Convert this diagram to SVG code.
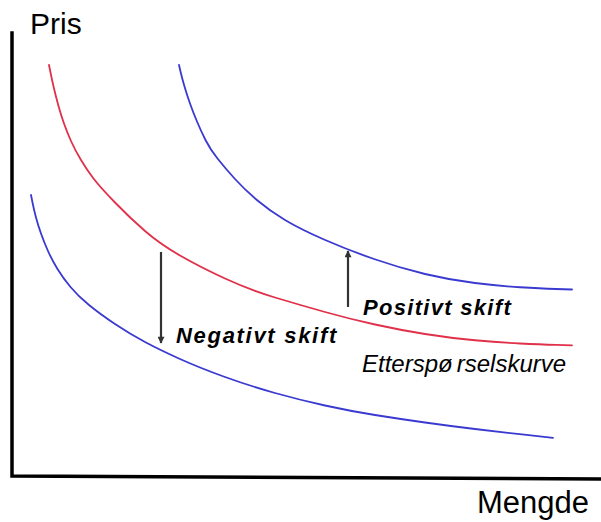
<svg xmlns="http://www.w3.org/2000/svg" width="601" height="522" viewBox="0 0 601 522">
<style>
.axis{stroke:#000;stroke-width:3.5;fill:none;stroke-linecap:square}
.curve{fill:none;stroke-width:1.8;stroke-linejoin:round;stroke-linecap:round}
.red{stroke:#e0304a}
.blue{stroke:#3a3ad0}
.arr{stroke:#333;stroke-width:2.2;fill:none}
.lbl{font-family:"Liberation Sans",Arial,sans-serif;fill:#000}
.bi{font-weight:bold;font-style:italic}
</style>
<defs>
<marker id="ah" viewBox="0 0 10 10" refX="9" refY="5" markerWidth="8" markerHeight="7" markerUnits="userSpaceOnUse" orient="auto">
<path d="M0,0 L10,5 L0,10 z" fill="#333"/>
</marker>
</defs>
<rect width="601" height="522" fill="#fff"/>
<g id="axes">
<path class="axis" d="M12,33 L12,476 L601,479"/>
</g>
<g id="curves">
<path id="demand" class="curve red" d="M49,65 L50.5,72.5 Q52,80 54,88.5 Q56,97 58.5,106 Q61,115 64,123.5 Q67,132 71,141 Q75,150 81,160 Q87,170 93.5,178.5 Q100,187 115,202.5 Q130,218 145,231 Q160,244 180,255.5 Q200,267 225,278.5 Q250,290 275,297.5 Q300,305 325,312 Q350,319 375,324.5 Q400,330 425,334 Q450,338 475,340.25 Q500,342.5 520,343.5 Q540,344.5 556,344.9 L572,345.3"/>
<path id="positive" class="curve blue" d="M179,65 L180.5,71.5 Q182,78 184.5,86.5 Q187,95 190,103.5 Q193,112 197,121.5 Q201,131 205.5,140 Q210,149 217.5,158.5 Q225,168 235,179 Q245,190 257.5,200.5 Q270,211 285,220 Q300,229 324,239.5 Q348,250 374,259 Q400,268 425,274 Q450,280 475,283 Q500,286 520,287.25 Q540,288.5 556,289 L572,289.5"/>
<path id="negative" class="curve blue" d="M31,195 L32.5,202.5 Q34,210 36,217.5 Q38,225 41,233.5 Q44,242 48,251 Q52,260 57.5,269 Q63,278 70.5,287 Q78,296 89,305 Q100,314 115,324 Q130,334 145,342 Q160,350 180,359 Q200,368 225,377 Q250,386 275,393 Q300,400 325,405.5 Q350,411 375,415 Q400,419 425,422.5 Q450,426 475,429 Q500,432 526.5,434.95 L553,437.9"/>
</g>
<g id="connectors">
<line class="arr" x1="161" y1="252" x2="161" y2="343" marker-end="url(#ah)"/>
<line class="arr" x1="348" y1="307" x2="348" y2="251" marker-end="url(#ah)"/>
</g>
<g id="labels">
<text class="lbl" x="30" y="34" font-size="30">Pris</text>
<text class="lbl" x="589" y="513" font-size="31" text-anchor="end">Mengde</text>
<text class="lbl bi" x="176" y="343" font-size="22" letter-spacing="1.7">Negativt skift</text>
<text class="lbl bi" x="363" y="315" font-size="22" letter-spacing="1.3">Positivt skift</text>
<text class="lbl" x="362" y="372" font-size="24" font-style="italic">Etterspø<tspan dx="4">rselskurve</tspan></text>
</g>
</svg>
